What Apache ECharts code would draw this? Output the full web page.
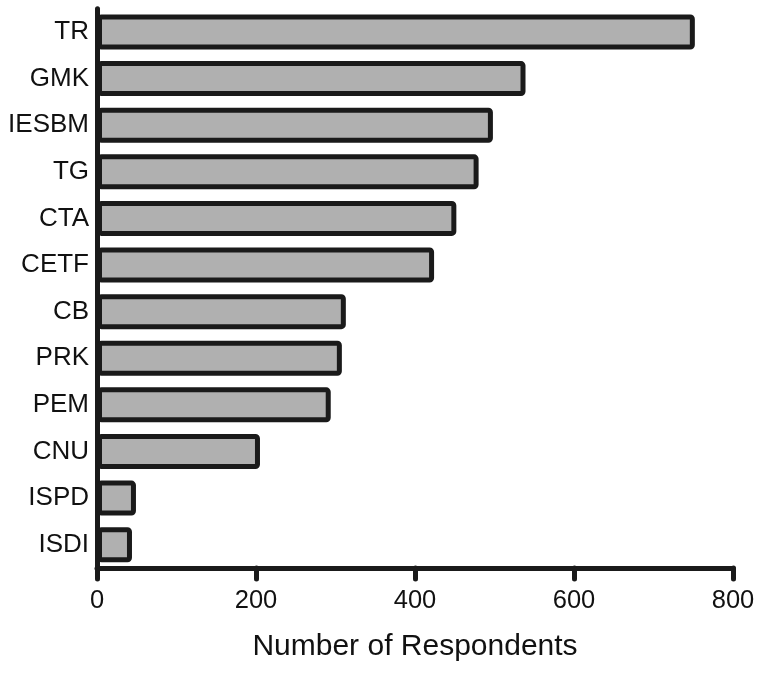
<!DOCTYPE html>
<html><head><meta charset="utf-8">
<script src="https://cdn.jsdelivr.net/npm/echarts@6/dist/echarts.min.js"></script>
<style>html,body{margin:0;padding:0;background:#fff}#c{width:764px;height:673px}</style>
</head><body><div id="c"></div>
<script>
const categories = ["TR","GMK","IESBM","TG","CTA","CETF","CB","PRK","PEM","CNU","ISPD","ISDI"];
const respondents = [752,539,498,480,452,424,313,308,294,205,49,44];
const xTicks = [0,200,400,600,800];
const xAxisTitle = "Number of Respondents";

const chart = echarts.init(document.getElementById('c'), null, {renderer:'canvas'});
const font = '"Liberation Sans", Arial, Helvetica, sans-serif';
chart.setOption({
  animation:false,
  backgroundColor:'#fff',
  grid:{left:97,right:31,top:8.7,bottom:105,containLabel:false},
  xAxis:{
    type:'value', min:xTicks[0], max:xTicks[xTicks.length-1], interval:200,
    splitLine:{show:false},
    axisLine:{show:true,lineStyle:{color:'#1a1a1a',width:5,cap:'round'}},
    axisTick:{show:true,length:11,lineStyle:{color:'#1a1a1a',width:5,cap:'round'}},
    axisLabel:{color:'#111',fontSize:25.5,fontFamily:font,margin:20},
    name:xAxisTitle, nameLocation:'middle', nameGap:64,
    nameTextStyle:{color:'#111',fontSize:30,fontFamily:font}
  },
  yAxis:{
    type:'category', data:categories, inverse:true,
    axisLine:{show:true,lineStyle:{color:'#1a1a1a',width:5,cap:'round'}},
    axisTick:{show:false},
    axisLabel:{color:'#111',fontSize:26,fontFamily:font,margin:8}
  },
  series:[{
    type:'bar', data:respondents, barWidth:35,
    itemStyle:{color:'#b0b0b0',borderColor:'#1a1a1a',borderWidth:5,borderRadius:2}
  }]
});
</script></body></html>
